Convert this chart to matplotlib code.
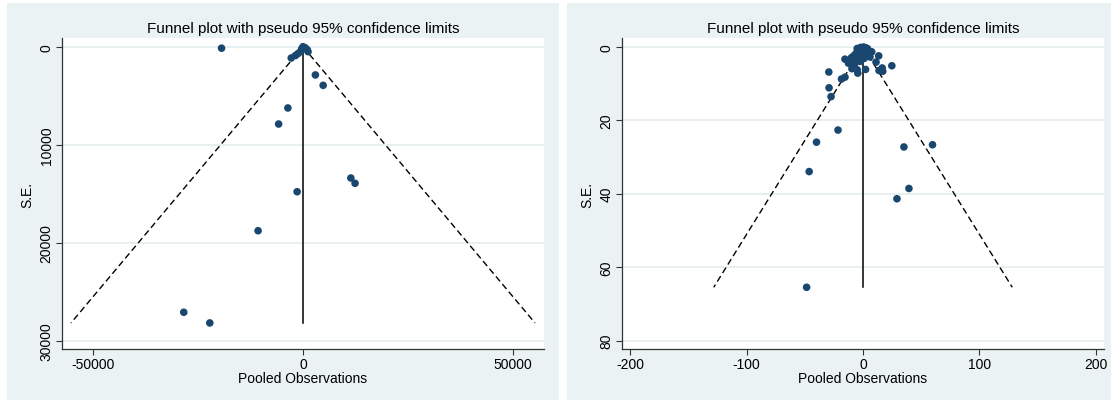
import matplotlib
matplotlib.use("Agg")
import matplotlib.pyplot as plt
from matplotlib.patches import Rectangle
import numpy as np

plt.rcParams['font.family'] = ['Liberation Sans', 'DejaVu Sans']
plt.rcParams['axes.unicode_minus'] = False

# ---------------- data ----------------
title_text = "Funnel plot with pseudo 95% confidence limits"
xlabel_text = "Pooled Observations"
ylabel_text = "S.E."

# Left panel
left_effect = [-19400, 0, 500, -300, 1000, 1200, -600, -1200, -1800, -2800,
               2950, 4800, -3600, -5800, 11400, 12400, -1400, -10700,
               -28400, -22200]
left_se = [150, 0, 100, 200, 300, 500, 500, 700, 900, 1150,
           2880, 3940, 6250, 7890, 13400, 13940, 14800, 18780,
           27100, 28190]
left_pooled = 0
left_xticks = [-50000, 0, 50000]
left_xticklabels = ["-50000", "0", "50000"]
left_yticks = [0, 10000, 20000, 30000]
left_yticklabels = ["0", "10000", "20000", "30000"]
left_xlim = (-57400, 57400)
left_ylim = (30850, -890)

# Right panel
right_effect = [-48.5, -46.3, -40.0, -21.5, 35.2, 59.8, 39.5, 29.2,
                -29.4, -29.2, -27.5, -18.5, -15.5, -15.5, -11.5, -7.0, -4.5,
                -5.0, -9.5, 2.2, 13.5, 11.2, 16.5, 17.0, 13.8, 24.8, 6.0, 7.5,
                3.2, -3.0, -5.0, -2.0, 0.5, 2.5, 4.0, -1.0, 1.5, -6.0, -8.0,
                -3.5, 1.0, 4.5, -2.5, -10.0, -12.5, -1.5, 2.0]
right_se = [65.5, 34.0, 26.0, 22.7, 27.3, 26.7, 38.6, 41.4,
            6.9, 11.2, 13.6, 8.8, 8.3, 3.4, 3.8, 4.6, 7.2,
            6.3, 6.0, 6.2, 2.5, 4.2, 5.8, 6.7, 6.5, 5.2, 2.8, 1.4,
            2.3, 1.5, 0.5, 0.2, 0.1, 0.3, 0.6, 0.8, 1.2, 1.8, 2.5,
            3.0, 3.2, 1.9, 4.0, 3.0, 4.5, 2.2, 2.0]
right_pooled = 0
right_xticks = [-200, -100, 0, 100, 200]
right_xticklabels = ["-200", "-100", "0", "100", "200"]
right_yticks = [0, 20, 40, 60, 80]
right_yticklabels = ["0", "20", "40", "60", "80"]
right_xlim = (-207.3, 207.3)
right_ylim = (82.3, -2.36)

# ---------------- figure ----------------
W, H = 1111, 402
fig = plt.figure(figsize=(W / 100, H / 100), dpi=100, facecolor="white")

BG = "#EAF2F3"
MARK = "#1a476f"


def fig_rect(x0, y0, x1, y1):
    # pixel coords from top-left -> figure fraction
    return [x0 / W, 1 - y1 / H, (x1 - x0) / W, (y1 - y0) / H]


# panel backgrounds
for (x0, y0, x1, y1) in [(7, 4, 559, 401), (567, 4, 1111, 401)]:
    r = fig_rect(x0, y0, x1, y1)
    fig.patches.append(Rectangle((r[0], r[1]), r[2], r[3], transform=fig.transFigure,
                                 facecolor=BG, edgecolor="none", zorder=-10))


def draw_panel(ax, eff, se, pooled, xticks, xtl, yticks, ytl, xlim, ylim):
    ax.set_facecolor("white")
    se_arr = np.asarray(se, dtype=float)
    maxse = se_arr.max()
    # pseudo 95% CI limits
    ax.plot([pooled, pooled - 1.96 * maxse], [0, maxse], color="black", lw=1.0,
            dashes=(4.6, 2.6), zorder=2)
    ax.plot([pooled, pooled + 1.96 * maxse], [0, maxse], color="black", lw=1.0,
            dashes=(4.6, 2.6), zorder=2)
    ax.plot([pooled, pooled], [0, maxse], color="black", lw=1.1, zorder=2)
    ax.scatter(eff, se, s=30, color=MARK, edgecolors="none", zorder=3)
    ax.set_xlim(*xlim)
    ax.set_ylim(*ylim)
    ax.set_xticks(xticks)
    ax.set_xticklabels(xtl)
    ax.set_yticks(yticks)
    ax.set_yticklabels(ytl, rotation=90, va="center")
    ax.yaxis.grid(True, color="#E3ECEE", lw=1.2, zorder=0)
    ax.set_axisbelow(True)
    for s in ["top", "right"]:
        ax.spines[s].set_visible(False)
    for s in ["left", "bottom"]:
        ax.spines[s].set_color("#333333")
        ax.spines[s].set_linewidth(0.9)
    ax.tick_params(axis="both", direction="out", length=4, width=0.8,
                   color="#333333", labelsize=10, pad=2)
    ax.set_title(title_text, fontsize=11, pad=4)
    ax.set_xlabel(xlabel_text, fontsize=10, labelpad=0)
    ax.set_ylabel(ylabel_text, fontsize=10, labelpad=4)


ax1 = fig.add_axes(fig_rect(62, 39, 544, 350))
ax1.set_zorder(1)
draw_panel(ax1, left_effect, left_se, left_pooled, left_xticks, left_xticklabels,
           left_yticks, left_yticklabels, left_xlim, left_ylim)

ax2 = fig.add_axes(fig_rect(622, 39, 1104, 350))
ax2.set_zorder(1)
draw_panel(ax2, right_effect, right_se, right_pooled, right_xticks, right_xticklabels,
           right_yticks, right_yticklabels, right_xlim, right_ylim)

fig.savefig("out.png", dpi=100, facecolor="white")
